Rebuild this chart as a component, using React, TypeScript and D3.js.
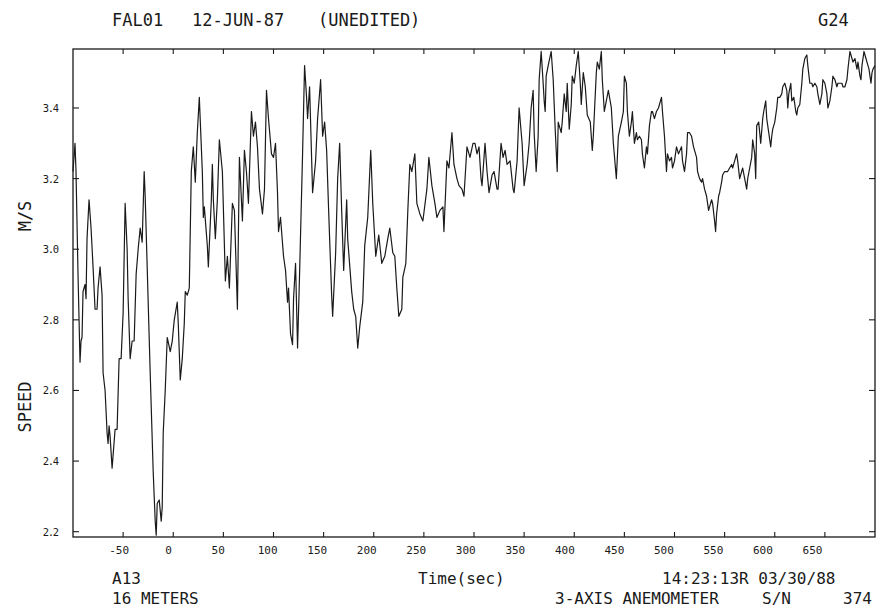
import React from "react";
import * as d3 from "d3";

// time (s) and speed (m/s)
const timeSec = [
  -100, -98, -97, -95, -93, -92, -91, -90, -88, -87, -86, -84, -82, -80, -78, -76, -75, -73, -71, -70,
  -68, -66, -65, -64, -63, -61, -58, -56, -54, -52, -50, -48, -46, -45, -43, -41, -39, -37, -35, -33,
  -31, -29, -28, -26, -23, -20, -18, -17, -16, -14, -12, -11, -10, -8, -6, -3, -1, 1, 4, 5,
  7, 9, 11, 12, 14, 16, 18, 20, 22, 24, 26, 29, 30, 31, 34, 35, 38, 39, 40, 42,
  44, 46, 49, 52, 54, 56, 59, 61, 64, 66, 69, 71, 73, 75, 78, 80, 82, 84, 86, 89,
  91, 93, 95, 98, 100, 102, 104, 105, 107, 110, 112, 114, 115, 117, 119, 120, 122, 124, 126, 129,
  131, 133, 134, 136, 138, 139, 142, 144, 147, 149, 151, 153, 155, 158, 159, 162, 164, 166, 168, 170,
  173, 174, 178, 180, 182, 184, 186, 189, 191, 194, 197, 199, 202, 205, 208, 211, 214, 216, 219, 221,
  223, 225, 228, 229, 232, 234, 236, 238, 241, 243, 246, 249, 253, 255, 258, 261, 263, 266, 269, 270,
  273, 275, 278, 280, 283, 285, 288, 290, 293, 296, 299, 301, 303, 305, 307, 308, 310, 311, 313, 315,
  318, 320, 323, 324, 327, 329, 331, 333, 336, 339, 340, 343, 345, 348, 350, 353, 355, 357, 359, 360,
  362, 364, 365, 367, 369, 370, 371, 372, 374, 377, 379, 381, 383, 384, 387, 388, 390, 392, 393, 395,
  397, 398, 400, 402, 404, 406, 407, 409, 411, 413, 416, 418, 419, 422, 423, 425, 427, 428, 430, 432,
  434, 437, 439, 442, 444, 447, 449, 450, 452, 453, 455, 457, 458, 460, 462, 463, 465, 467, 468, 470,
  472, 473, 475, 477, 478, 480, 482, 484, 487, 488, 490, 492, 493, 495, 497, 498, 500, 502, 504, 507,
  508, 510, 512, 513, 515, 517, 519, 522, 523, 525, 527, 528, 530, 532, 533, 534, 536, 537, 538, 540,
  541, 542, 544, 545, 547, 548, 550, 552, 553, 555, 557, 558, 560, 562, 563, 565, 567, 568, 570, 572,
  573, 575, 577, 578, 580, 581, 582, 584, 586, 588, 589, 591, 592, 594, 596, 597, 598, 600, 602, 603,
  605, 607, 608, 610, 612, 613, 614, 616, 617, 619, 621, 622, 623, 625, 627, 628, 630, 632, 633, 635,
  637, 638, 640, 642, 643, 645, 647, 648, 650, 652, 653, 655, 657, 658, 660, 662, 663, 665, 667, 668,
  670, 672, 673, 675, 677, 678, 680, 682, 683, 685, 686, 687, 689, 691, 692, 694, 695, 696, 697, 698,
  700,
];

const speed = [
  3.22, 3.30, 3.22, 2.93, 2.68, 2.74, 2.75, 2.88, 2.90, 2.86, 3.03, 3.14, 3.06, 2.95, 2.83, 2.83, 2.89, 2.95, 2.87, 2.65,
  2.60, 2.48, 2.45, 2.50, 2.47, 2.38, 2.49, 2.49, 2.69, 2.69, 2.82, 3.13, 3.00, 2.86, 2.69, 2.74, 2.74, 2.93, 3.00, 3.06,
  3.02, 3.22, 3.15, 2.95, 2.65, 2.37, 2.23, 2.19, 2.28, 2.29, 2.23, 2.27, 2.48, 2.60, 2.75, 2.71, 2.74, 2.80, 2.85, 2.79,
  2.63, 2.69, 2.79, 2.88, 2.87, 2.89, 3.22, 3.29, 3.19, 3.33, 3.43, 3.22, 3.09, 3.12, 3.01, 2.95, 3.14, 3.24, 3.14, 3.03,
  3.14, 3.31, 3.22, 2.91, 2.98, 2.89, 3.13, 3.11, 2.83, 3.26, 3.08, 3.28, 3.22, 3.13, 3.39, 3.32, 3.36, 3.29, 3.17, 3.10,
  3.17, 3.45, 3.37, 3.27, 3.26, 3.30, 3.16, 3.05, 3.09, 2.98, 2.94, 2.85, 2.89, 2.76, 2.73, 2.86, 2.96, 2.72, 2.93, 3.27,
  3.52, 3.43, 3.37, 3.46, 3.26, 3.16, 3.25, 3.37, 3.48, 3.32, 3.36, 3.28, 3.11, 2.87, 2.81, 2.99, 3.20, 3.30, 3.11, 2.94,
  3.14, 3.03, 2.88, 2.83, 2.81, 2.72, 2.78, 2.85, 3.01, 3.09, 3.28, 3.13, 2.98, 3.04, 2.96, 2.98, 3.03, 3.06, 2.99, 2.98,
  2.89, 2.81, 2.83, 2.92, 2.96, 3.11, 3.24, 3.22, 3.27, 3.13, 3.10, 3.08, 3.17, 3.26, 3.18, 3.13, 3.09, 3.11, 3.12, 3.05,
  3.25, 3.23, 3.33, 3.24, 3.20, 3.18, 3.17, 3.15, 3.29, 3.26, 3.30, 3.30, 3.27, 3.29, 3.20, 3.18, 3.26, 3.30, 3.22, 3.16,
  3.21, 3.22, 3.17, 3.17, 3.30, 3.26, 3.28, 3.24, 3.25, 3.17, 3.16, 3.25, 3.40, 3.30, 3.18, 3.24, 3.30, 3.40, 3.45, 3.33,
  3.22, 3.32, 3.48, 3.56, 3.47, 3.42, 3.39, 3.49, 3.52, 3.56, 3.48, 3.34, 3.22, 3.36, 3.33, 3.36, 3.44, 3.39, 3.47, 3.34,
  3.41, 3.49, 3.47, 3.52, 3.56, 3.47, 3.41, 3.50, 3.46, 3.38, 3.36, 3.28, 3.32, 3.50, 3.53, 3.51, 3.56, 3.48, 3.39, 3.42,
  3.45, 3.40, 3.30, 3.20, 3.32, 3.36, 3.39, 3.49, 3.47, 3.39, 3.32, 3.36, 3.39, 3.30, 3.33, 3.31, 3.32, 3.31, 3.27, 3.23,
  3.29, 3.27, 3.35, 3.39, 3.39, 3.37, 3.39, 3.40, 3.43, 3.39, 3.32, 3.22, 3.27, 3.25, 3.26, 3.23, 3.25, 3.29, 3.27, 3.29,
  3.25, 3.22, 3.27, 3.33, 3.33, 3.32, 3.29, 3.26, 3.22, 3.20, 3.19, 3.20, 3.17, 3.15, 3.13, 3.11, 3.13, 3.14, 3.13, 3.08,
  3.05, 3.10, 3.15, 3.16, 3.19, 3.21, 3.22, 3.22, 3.22, 3.23, 3.24, 3.23, 3.25, 3.27, 3.25, 3.20, 3.22, 3.23, 3.20, 3.17,
  3.20, 3.23, 3.26, 3.31, 3.27, 3.20, 3.35, 3.36, 3.30, 3.37, 3.39, 3.42, 3.37, 3.33, 3.29, 3.32, 3.34, 3.36, 3.40, 3.43,
  3.43, 3.44, 3.46, 3.47, 3.45, 3.40, 3.44, 3.47, 3.42, 3.43, 3.39, 3.38, 3.40, 3.41, 3.47, 3.51, 3.54, 3.55, 3.52, 3.47,
  3.47, 3.46, 3.47, 3.46, 3.44, 3.41, 3.44, 3.48, 3.47, 3.44, 3.40, 3.42, 3.46, 3.49, 3.48, 3.46, 3.47, 3.47, 3.47, 3.46,
  3.46, 3.48, 3.51, 3.56, 3.54, 3.53, 3.54, 3.51, 3.53, 3.49, 3.48, 3.52, 3.56, 3.54, 3.53, 3.51, 3.49, 3.47, 3.50, 3.51,
  3.52,
];

const xTicks = [-50, 0, 50, 100, 150, 200, 250, 300, 350, 400, 450, 500, 550, 600, 650];
const yTicks = [2.2, 2.4, 2.6, 2.8, 3.0, 3.2, 3.4];
const xDomain = [-100, 700];
const yDomain = [2.185, 3.567];

const titleItems = [
  { text: "FAL01", x: 112 },
  { text: "12-JUN-87", x: 192 },
  { text: "(UNEDITED)", x: 318 },
  { text: "G24", x: 818 },
];
const footerRow1 = [
  { text: "A13", x: 112 },
  { text: "Time(sec)", x: 418 },
  { text: "14:23:13R 03/30/88", x: 662 },
];
const footerRow2 = [
  { text: "16 METERS", x: 112 },
  { text: "3-AXIS ANEMOMETER", x: 555 },
  { text: "S/N", x: 762 },
  { text: "374", x: 843 },
];

const W = 876;
const H = 611;
const L = 73, R = 875, T = 49, B = 537;
const INK = "#1a1a1a";
const FONT = "'DejaVu Sans Mono', monospace";

export default function App() {
  const x = d3.scaleLinear().domain(xDomain).range([L, R]);
  const y = d3.scaleLinear().domain(yDomain).range([B, T]);
  const pts = timeSec.map((t, i) => [t, speed[i]] as [number, number]);
  const line = d3
    .line<[number, number]>()
    .x((d) => x(d[0]))
    .y((d) => y(d[1]));
  const tick = 5;
  return (
    <svg
      width={W}
      height={H}
      style={{ position: "absolute", left: 0, top: 0, background: "#fff" }}
    >
      <rect x={0} y={0} width={W} height={H} fill="#fff" />
      {/* frame */}
      <rect x={L} y={T} width={R - L} height={B - T} fill="none" stroke={INK} strokeWidth={1.3} />
      {/* x ticks top and bottom */}
      {xTicks.map((v) => (
        <g key={"xt" + v}>
          <line x1={x(v)} x2={x(v)} y1={B} y2={B - tick} stroke={INK} strokeWidth={1.1} />
          <line x1={x(v)} x2={x(v)} y1={T} y2={T + tick} stroke={INK} strokeWidth={1.1} />
          <text
            x={x(v) - 4 - (v + 50) * 0.012}
            y={554}
            fontFamily={FONT}
            fontSize={11}
            textAnchor="middle"
            fill={INK}
          >
            {String(v)}
          </text>
        </g>
      ))}
      {/* y ticks left and right */}
      {yTicks.map((v) => (
        <g key={"yt" + v}>
          <line x1={L} x2={L + tick + 1} y1={y(v)} y2={y(v)} stroke={INK} strokeWidth={1.1} />
          <line x1={R} x2={R - tick - 1} y1={y(v)} y2={y(v)} stroke={INK} strokeWidth={1.1} />
          <text
            x={58}
            y={y(v) + 4}
            fontFamily={FONT}
            fontSize={10.5}
            letterSpacing={-1.2}
            textAnchor="end"
            fill={INK}
          >
            {v.toFixed(1)}
          </text>
        </g>
      ))}
      {/* data */}
      <path d={line(pts) || ""} fill="none" stroke={INK} strokeWidth={1.2} strokeLinejoin="round" />
      {/* y axis titles */}
      <text
        transform={`translate(31, ${216}) rotate(-90)`}
        fontFamily={FONT}
        fontSize={17}
        textAnchor="middle"
        fill={INK}
      >
        M/S
      </text>
      <text
        transform={`translate(31, ${407}) rotate(-90)`}
        fontFamily={FONT}
        fontSize={17}
        textAnchor="middle"
        fill={INK}
      >
        SPEED
      </text>
      {/* title */}
      {titleItems.map((d) => (
        <text key={d.text} x={d.x} y={26} fontFamily={FONT} fontSize={17} fill={INK}>
          {d.text}
        </text>
      ))}
      {footerRow1.map((d) => (
        <text key={d.text} x={d.x} y={584} fontFamily={FONT} fontSize={16} fill={INK}>
          {d.text}
        </text>
      ))}
      {footerRow2.map((d) => (
        <text key={d.text} x={d.x} y={604} fontFamily={FONT} fontSize={16} fill={INK}>
          {d.text}
        </text>
      ))}
    </svg>
  );
}
